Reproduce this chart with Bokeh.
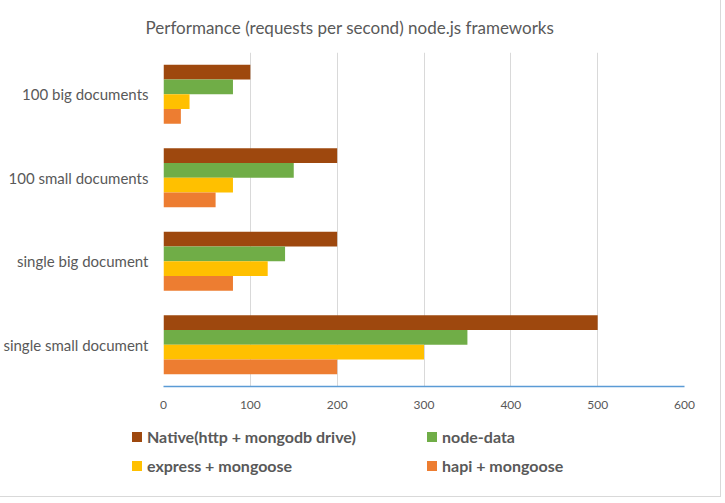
from bokeh.plotting import figure
from bokeh.models import ColumnDataSource, FactorRange, Title, SingleIntervalTicker, Div
from bokeh.layouts import column
from bokeh.transform import dodge
from bokeh.embed import file_html
from bokeh.resources import INLINE

categories = ["single small document", "single big document", "100 small documents", "100 big documents"]
native = [500, 200, 200, 100]
node_data = [350, 140, 150, 80]
express = [300, 120, 80, 30]
hapi = [200, 80, 60, 20]
series_names = ["Native(http + mongodb drive)", "node-data", "express + mongoose", "hapi + mongoose"]
colors = ["#9E480E", "#70AD47", "#FFC000", "#ED7D31"]
title_text = "Performance (requests per second) node.js frameworks"

FONT = "Lato"
W = 710
H_LEG = 70
H_MAIN = 486 - H_LEG
source = ColumnDataSource(dict(cat=categories, native=native, node_data=node_data,
                               express=express, hapi=hapi))

p = figure(width=W, height=H_MAIN, output_backend="svg", toolbar_location=None,
           y_range=FactorRange(factors=categories, range_padding=0),
           x_range=(0, 600),
           min_border_left=162, min_border_right=26, min_border_top=52, min_border_bottom=30)
p.outline_line_color = None
p.background_fill_color = "white"
p.border_fill_color = "white"

bar_h = 0.176
offsets = [0.264, 0.088, -0.088, -0.264]
fields = ["native", "node_data", "express", "hapi"]
for f, off, c in zip(fields, offsets, colors):
    p.hbar(y=dodge("cat", off, range=p.y_range), left=0, right=f, height=bar_h,
           source=source, fill_color=c, line_color=None)

p.ygrid.grid_line_color = None
p.xgrid.grid_line_color = "#D9D9D9"
p.xgrid.grid_line_width = 1

p.xaxis.ticker = SingleIntervalTicker(interval=100)
p.xaxis.axis_line_color = "#5B9BD5"
p.xaxis.axis_line_width = 1.5
p.xaxis.major_tick_line_color = None
p.xaxis.minor_tick_line_color = None
p.xaxis.major_tick_out = 0
p.xaxis.major_tick_in = 0
p.xaxis.major_label_text_font = FONT
p.xaxis.major_label_text_font_size = "12px"
p.xaxis.major_label_text_color = "#595959"
p.xaxis.major_label_standoff = 10

p.yaxis.axis_line_color = None
p.yaxis.major_tick_line_color = None
p.yaxis.minor_tick_line_color = None
p.yaxis.major_label_text_font = FONT
p.yaxis.major_label_text_font_size = "15px"
p.yaxis.major_label_text_color = "#595959"
p.yaxis.major_label_standoff = 9

p.title = Title(text=title_text, align="left", offset=-18, standoff=29, text_font=FONT,
                text_font_size="17px", text_font_style="normal", text_color="#595959")

# legend strip (row-major: Native, node-data / express, hapi)
col_x = [127, 422]
row_y = [6, 35]
parts = []
for i, (name, c) in enumerate(zip(series_names, colors)):
    x = col_x[i % 2]
    y = row_y[i // 2]
    parts.append(
        f'<div style="position:absolute;left:{x}px;top:{y}px;height:20px;display:flex;'
        f'align-items:center;white-space:nowrap;">'
        f'<span style="display:inline-block;width:10px;height:10px;background:{c};'
        f'margin-right:5px;"></span>'
        f'<span style="font-family:{FONT};font-weight:bold;font-size:16px;color:#595959;">'
        f'{name}</span></div>'
    )
legend_div = Div(text='<div style="position:relative;width:%dpx;height:%dpx;">%s</div>'
                 % (W, H_LEG, "".join(parts)),
                 width=W, height=H_LEG, styles={"background": "white"})

layout = column(p, legend_div, spacing=0)
layout.styles = {"outline": "1px solid #D9D9D9"}

open("out.html", "w").write(file_html(layout, INLINE))
